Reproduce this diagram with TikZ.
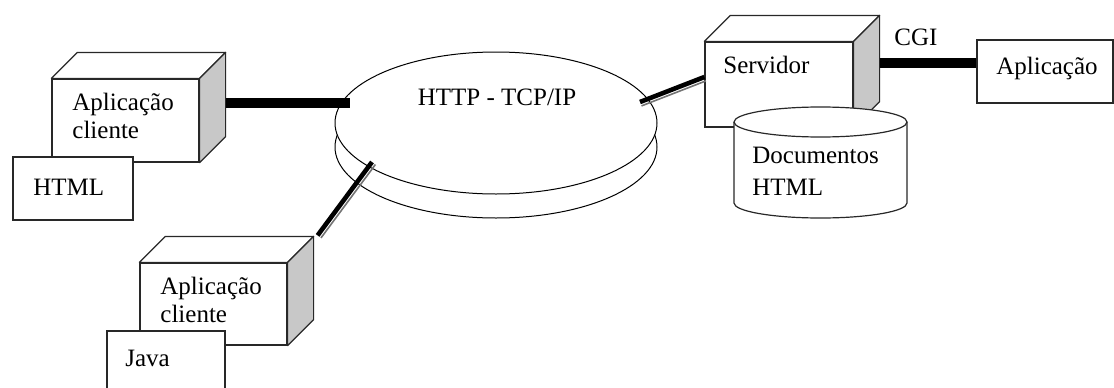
\documentclass[tikz,border=0pt]{standalone}
\usepackage{fontspec}
\setmainfont{Liberation Serif}
\usepackage{tikz}
\usetikzlibrary{shapes.geometric,calc}
\definecolor{sidegray}{RGB}{200,200,200}
\definecolor{edgegray}{RGB}{40,40,40}
\tikzset{
    front/.style={
        draw=edgegray,
        fill=white,
        line width=0.6pt,
        inner sep=0pt
    }
}
\tikzset{
    cubeside/.style={draw=edgegray, fill=sidegray, line width=0.6pt, line join=round},
    cubetop/.style={draw=edgegray, fill=white, line width=0.6pt, line join=round}
}
\tikzset{
    netdisk/.style={ellipse, draw, fill=white, line width=0.5pt,
    minimum width=161pt, minimum height=71pt, inner sep=0pt}
}
\tikzset{
    thickline/.style={line width=5pt},
    link/.style={line width=2.3pt},
    linkthin/.style={line width=0.8pt, black!55},
    txt/.style={font=\fontsize{12.5}{14}\selectfont, inner sep=0pt, align=left}
}
\newcommand{\drawCube}[1]{
    \draw[cubetop] (#1.north west) -- ++(26,26) -- ($(#1.north east)+(26,26)$) -- (#1.north east) -- cycle;
    \draw[cubeside] (#1.north east) -- ++(26,26) -- ($(#1.south east)+(26,26)$) -- (#1.south east) -- cycle}
\newcommand{\drawLink}[3]{
    \draw[link] (#1) -- (#2);
    \draw[linkthin] ([shift={#3}]#1) -- ([shift={#3}]#2)}

\begin{document}
\begin{tikzpicture}[x=0.5pt,y=0.5pt]

    \useasboundingbox (0,0) rectangle (1114,387);
    \clip (0,0) rectangle (1114,387);

    % network
    \node[netdisk] (netb) at (496,240) {};
    \node[netdisk] (net) at (496,264) {};
    \node[txt] (nettxt) at (497,290) {HTTP - TCP/IP};

    % client top left
    \node[front, minimum width=73.5pt, minimum height=41.5pt] (cli1) at (125.5,266.5) {};
    \drawCube{cli1};
    \node[txt, anchor=west] (cli1txt) at (72,271) {Aplicação\\cliente};
    \node[front, minimum width=60pt, minimum height=31.5pt] (html) at (73,198.5) {};
    \node[txt, anchor=west] (htmltxt) at (33,200) {HTML};

    \draw[thickline] ([shift={(26,17.5)}]cli1.east) -- ([shift={(15,20)}]net.west);

    % client bottom
    \node[front, minimum width=73.5pt, minimum height=41pt] (cli2) at (213.5,83) {};
    \drawCube{cli2};
    \node[txt, anchor=west] (cli2txt) at (160,87) {Aplicação\\cliente};
    \node[front, minimum width=59pt, minimum height=33pt] (java) at (166,23) {};
    \node[txt, anchor=west] (javatxt) at (125,29) {Java};

    \coordinate (l1a) at ([shift={(30,27)}]cli2.north east);
    \coordinate (l1b) at ([shift={(-124,-39)}]net.center);
    \drawLink{l1a}{l1b}{(3.4,-2.5)};

    % server
    \node[front, minimum width=74pt, minimum height=42.5pt] (srv) at (779,302.5) {};
    \drawCube{srv};
    \node[txt, anchor=west] (srvtxt) at (723,322) {Servidor};

    \filldraw[front] (734,265) -- (734,184) arc[start angle=180, end angle=360, x radius=86.5, y radius=15] -- (907,265);
    \filldraw[front] (820.5,265) ellipse [x radius=86.5, y radius=15];
    \node[txt, anchor=west, font=\fontsize{12.5}{16}\selectfont] (doc) at (752,216) {Documentos\\HTML};

    \coordinate (l2a) at ([shift={(144,21)}]net.center);
    \coordinate (l2b) at ([shift={(0,7.5)}]srv.west);
    \drawLink{l2a}{l2b}{(1.5,-3.9)};

    % CGI
    \node[front, minimum width=68pt, minimum height=31.5pt] (app) at (1045,315.5) {};
    \node[txt] (apptxt) at (1047,319) {Aplicação};
    \draw[thickline] ([shift={(26,21.5)}]srv.east) -- ([shift={(0,8.5)}]app.west);
    \node[txt] (cgi) at (916,350) {CGI};

\end{tikzpicture}
\end{document}
